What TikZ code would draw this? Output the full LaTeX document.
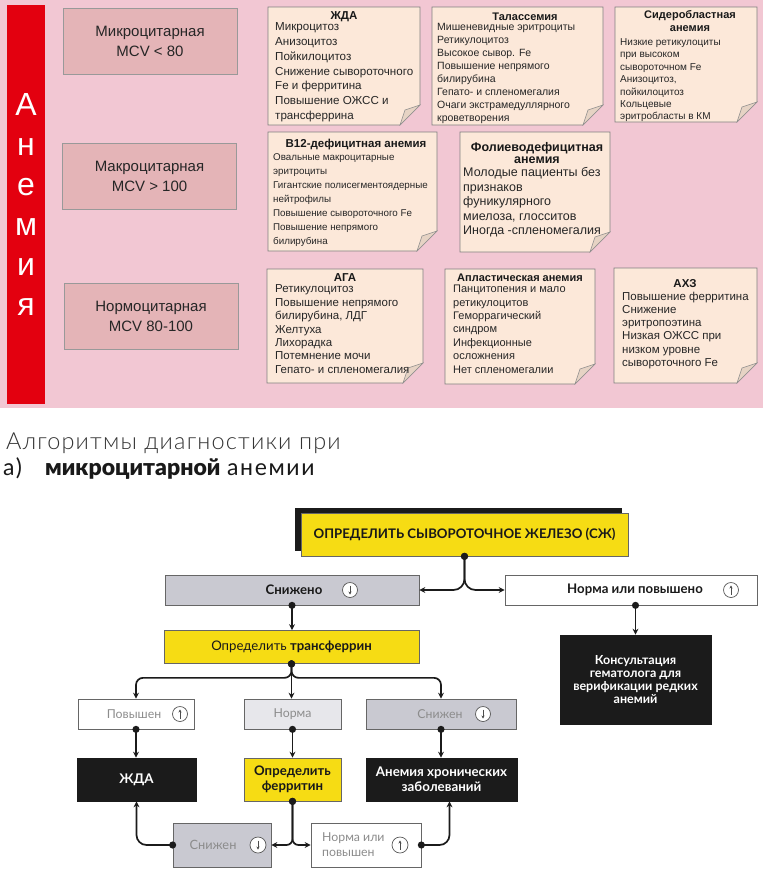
\documentclass[tikz,border=0pt]{standalone}
\usepackage{fontspec}
\setmainfont{Liberation Sans}
\newfontfamily\flow{Lato}
\newfontfamily\flowwide{Lato}[LetterSpace=7]
\newfontfamily\flowlight{Lato Light}[LetterSpace=5]
\newfontfamily\flowblack{Lato Black}
\usetikzlibrary{arrows.meta,shadows}

\definecolor{pinkbg}{HTML}{F2C7D3}
\definecolor{redbar}{HTML}{E3000F}
\definecolor{catfill}{HTML}{E4B4B7}
\definecolor{notefill}{HTML}{FCE8D9}
\definecolor{flapfill}{HTML}{E6D3C4}
\definecolor{yel}{HTML}{F6DC14}
\definecolor{grayA}{HTML}{C9C9D1}
\definecolor{grayB}{HTML}{E7E7EB}
\definecolor{blk}{HTML}{1B1B1B}
\definecolor{txtgray}{HTML}{8C8C8C}

\newcommand{\setfs}[2]{\fontsize{#1}{#2}\selectfont}
% note sheet with a folded corner
\newcommand{\foldnote}[4]{%
  \filldraw[notebox] (#1,#2) -- (#3,#2) -- (#3,#4-20) -- (#3-20,#4) -- (#1,#4) -- cycle;
  \filldraw[noteflap] (#3-20,#4) -- (#3-15,#4-15) -- (#3,#4-20) -- cycle;}

\tikzset{
  barletter/.style={anchor=base, inner sep=0pt, text=white, font=\setfs{32}{32}},
  catbox/.style={draw=black!40, fill=catfill, minimum width=174pt, minimum height=66pt,
    align=center, font=\setfs{15}{20}, text=black!85},
  notebox/.style={draw=black!50, fill=notefill, line width=0.6pt},
  noteflap/.style={draw=black!45, fill=flapfill, line width=0.5pt},
  ntitle/.style={inner sep=0pt, align=center, text=black!90},
  nbody/.style={anchor=north west, inner sep=0pt, align=left, text=black!85},
  fbox/.style={draw=black!60, line width=0.7pt, inner sep=0pt, align=center},
  yelbox/.style={fbox, fill=yel, text=black!90, font=\flow\bfseries\setfs{13.2}{15}},
  graybox/.style={fbox, fill=grayA},
  lightbox/.style={fbox, fill=grayB},
  whitebox/.style={fbox, fill=white},
  blackbox/.style={fbox, draw=blk, fill=blk, text=white, font=\flow\bfseries\setfs{13.3}{15}},
  fbold/.style={inner sep=0pt, font=\flow\bfseries\setfs{13.2}{15}, text=black!90},
  fgray/.style={inner sep=0pt, align=left, font=\flow\setfs{12.3}{15}, text=txtgray},
  icon/.style={circle, draw=black!65, fill=white, line width=0.7pt, minimum size=15pt, inner sep=0pt},
  icup/.style={icon, path picture={\draw[black!70, line width=0.8pt, -{Stealth[length=3pt,width=3.2pt]}]
    ([yshift=-4.5pt]path picture bounding box.center) -- ([yshift=4.5pt]path picture bounding box.center);}},
  icdown/.style={icon, path picture={\draw[black!70, line width=0.8pt, -{Stealth[length=3pt,width=3.2pt]}]
    ([yshift=4.5pt]path picture bounding box.center) -- ([yshift=-4.5pt]path picture bounding box.center);}},
  conn/.style={line width=1.7pt, draw=blk, rounded corners=7pt, shorten <=-3.5pt,
    {Circle[length=7pt]}-{Stealth[length=6pt,width=6pt]}}
}

\begin{document}
\begin{tikzpicture}[x=1pt, y=-1pt]
\useasboundingbox (0,0) rectangle (763,873);
\fill[white] (0,0) rectangle (763,873);

% upper part
\fill[pinkbg] (0,0) rectangle (763,408);
\fill[redbar] (7,5) rectangle (45,404);
\foreach \ch/\yy [count=\i] in {А/115, н/155, е/195, м/235, и/275, я/315}
  \node[barletter] (let\i) at (26,\yy) {\ch};

\node[catbox] (micro) at (150,41.5) {Микроцитарная\\MCV < 80};
\node[catbox] (macro) at (149.5,176.5) {Макроцитарная\\MCV > 100};
\node[catbox] (normo) at (151,316) {Нормоцитарная\\MCV 80-100};

% row 1
\foldnote{268}{7}{420}{125}
\node[ntitle, font=\bfseries\setfs{11.5}{13}] (zhdaT) at (344,17) {ЖДА};
\node[nbody, font=\setfs{11.6}{14.8}] (zhdaB) at (275,22.5)
  {Микроцитоз\\Анизоцитоз\\Пойкилоцитоз\\Снижение сывороточного\\Fe и ферритина\\Повышение ОЖСС и\\трансферрина};

\foldnote{432}{7}{603}{125}
\node[ntitle, font=\bfseries\setfs{11}{13}] (talT) at (525,17) {Талассемия};
\node[nbody, font=\setfs{10.5}{12.9}] (talB) at (437,23.5)
  {Мишеневидные эритроциты\\Ретикулоцитоз\\Высокое сывор. Fe\\Повышение непрямого\\билирубина\\Гепато- и спленомегалия\\Очаги экстрамедуллярного\\кроветворения};

\foldnote{615}{7}{757}{122}
\node[ntitle, font=\bfseries\setfs{11}{13}] (sidT) at (690,21.5) {Сидеробластная\\анемия};
\node[nbody, font=\setfs{10}{12.4}] (sidB) at (620,38.4)
  {Низкие ретикулоциты\\при высоком\\сывороточном Fe\\Анизоцитоз,\\пойкилоцитоз\\Кольцевые\\эритробласты в КМ};

% row 2
\foldnote{268}{132}{437}{251}
\node[ntitle, font=\bfseries\setfs{11.5}{13}] (b12T) at (356,145) {B12-дефицитная анемия};
\node[nbody, font=\setfs{9.8}{14}] (b12B) at (273,153.4)
  {Овальные макроцитарные\\эритроциты\\Гигантские полисегментоядерные\\нейтрофилы\\Повышение сывороточного Fe\\Повышение непрямого\\билирубина};

\foldnote{460}{132}{610}{252}
\node[ntitle, font=\bfseries\setfs{12.5}{12.5}] (folT) at (537,153) {Фолиеводефицитная\\анемия};
\node[nbody, font=\setfs{12.5}{14.4}] (folB) at (463,167.5)
  {Молодые пациенты без\\признаков\\фуникулярного\\миелоза, глосситов\\Иногда -спленомегалия};

% row 3
\foldnote{267}{269}{423}{383}
\node[ntitle, font=\bfseries\setfs{11.5}{13}] (agaT) at (345,278) {АГА};
\node[nbody, font=\setfs{11.5}{13.4}] (agaB) at (275,284.7)
  {Ретикулоцитоз\\Повышение непрямого\\билирубина, ЛДГ\\Желтуха\\Лихорадка\\Потемнение мочи\\Гепато- и спленомегалия};

\foldnote{445}{269}{595}{384}
\node[ntitle, font=\bfseries\setfs{11}{13}] (aplT) at (520,278) {Апластическая анемия};
\node[nbody, font=\setfs{11}{13.4}] (aplB) at (453,285)
  {Панцитопения и мало\\ретикулоцитов\\Геморрагический\\синдром\\Инфекционные\\осложнения\\Нет спленомегалии};

\foldnote{614}{268}{757}{383}
\node[ntitle, font=\bfseries\setfs{11.5}{13}] (ahzT) at (685,284) {АХЗ};
\node[nbody, font=\setfs{11.5}{13.2}] (ahzB) at (622,291.7)
  {Повышение ферритина\\Снижение\\эритропоэтина\\Низкая ОЖСС при\\низком уровне\\сывороточного Fe};

% lower part: algorithm
\node[anchor=base west, inner sep=0pt, text=black!80, font=\flowlight\setfs{23.5}{26}] (alg1) at (6,449)
  {Алгоритмы диагностики при};
\node[anchor=base west, inner sep=0pt, text=black!90, font=\flowwide\setfs{23}{26}] (alg2a) at (3,475) {а)};
\node[anchor=base west, inner sep=0pt, text=black!90, font=\flowblack\setfs{23}{26}] (alg2) at (45,475)
  {микроцитарной};
\node[anchor=base west, inner sep=0pt, text=black!90, font=\flowwide\setfs{23}{26}] (alg2b) at (227,475)
  {анемии};

\node[yelbox, minimum width=327pt, minimum height=43pt,
  general shadow={fill=blk, shadow xshift=-6pt, shadow yshift=5pt}] (sz) at (464.5,534.5)
  {ОПРЕДЕЛИТЬ СЫВОРОТОЧНОЕ ЖЕЛЕЗО (СЖ)};

\node[graybox, minimum width=254pt, minimum height=30pt] (snizh) at (292,590) {};
\node[fbold] (snizhL) at (294,590) {Снижено};
\node[icdown] (snizhI) at (350,590) {};
\node[whitebox, minimum width=252pt, minimum height=30pt] (norma) at (631,590) {};
\node[fbold] (normaL) at (635,590) {Норма или повышено};
\node[icup] (normaI) at (731,590) {};

\node[yelbox, minimum width=255pt, minimum height=33pt, font=\flow\setfs{13.2}{15}] (transf) at (291.5,647)
  {Определить \textbf{трансферрин}};
\node[blackbox, minimum width=151pt, minimum height=89pt, font=\flow\bfseries\setfs{12.5}{12.8}] (konsult)
  at (635.5,679.5) {Консультация\\гематолога для\\верификации редких\\анемий};

\node[whitebox, minimum width=116pt, minimum height=30pt] (povysh) at (136,714) {};
\node[fgray] (povyshL) at (134,714) {Повышен};
\node[icup] (povyshI) at (180,714) {};
\node[lightbox, minimum width=97pt, minimum height=30pt, font=\flow\setfs{12.3}{15}, text=txtgray]
  (normaT) at (292.5,714) {Норма};
\node[graybox, minimum width=150pt, minimum height=30pt] (snizhT) at (441,714) {};
\node[fgray] (snizhTL) at (440,714) {Снижен};
\node[icdown] (snizhTI) at (483,714) {};

\node[blackbox, minimum width=119pt, minimum height=43pt] (zhda) at (136.5,779.5) {ЖДА};
\node[yelbox, minimum width=97pt, minimum height=43pt] (ferr) at (292.5,779.5) {Определить\\ферритин};
\node[blackbox, minimum width=151pt, minimum height=43pt] (ahz) at (441.5,779.5)
  {Анемия хронических\\заболеваний};

\node[graybox, minimum width=98pt, minimum height=44pt] (snizhF) at (222,845) {};
\node[fgray, font=\flow\setfs{12.8}{15}] (snizhFL) at (213,845) {Снижен};
\node[icdown, minimum size=16pt] (snizhFI) at (258,845) {};
\node[whitebox, minimum width=110pt, minimum height=44pt] (normF) at (366,845) {};
\node[fgray, anchor=west] (normFL) at (322,845) {Норма или\\повышен};
\node[icup, minimum size=16pt] (normFI) at (400,845) {};

% connectors
\draw[conn, rounded corners=11pt] (sz.south) |- (snizh.east);
\draw[conn, rounded corners=11pt] (sz.south) |- (norma.west);
\draw[conn] (snizh.south) -- (snizh.south |- transf.north);
\draw[conn] (konsult.north |- norma.south) -- (konsult.north);
\draw[conn] (transf.south) -- ++(0,14) -| (povysh.north);
\draw[conn] (transf.south) -- ++(0,14) -| (snizhT.north);
\draw[conn] (transf.south) -- (transf.south |- normaT.north);
\draw[conn] (povysh.south) -- (povysh.south |- zhda.north);
\draw[conn] (normaT.south) -- (normaT.south |- ferr.north);
\draw[conn] (snizhT.south) -- (snizhT.south |- ahz.north);
\draw[conn, rounded corners=6pt] (ferr.south) |- (snizhF.east);
\draw[conn, rounded corners=6pt] (ferr.south) |- (normF.west);
\draw[conn, rounded corners=10pt] (snizhF.west) -| (zhda.south);
\draw[conn, rounded corners=10pt] (normF.east) -| ([xshift=8pt]ahz.south);
\end{tikzpicture}
\end{document}
